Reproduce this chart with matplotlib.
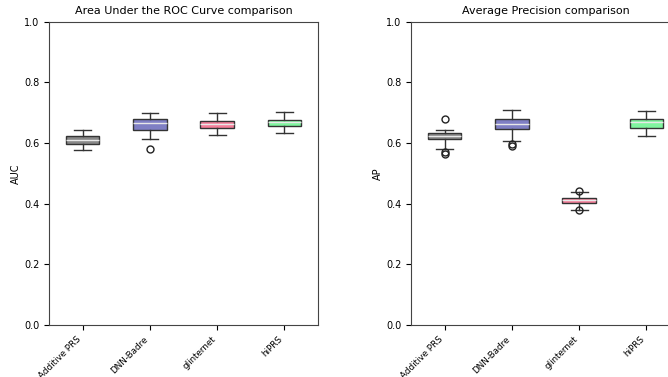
import matplotlib
matplotlib.use('Agg')
import matplotlib.pyplot as plt

models = ['Additive PRS', 'DNN-Badre', 'glinternet', 'hiPRS']
colors = ['#888888', '#7f7fc4', '#f47f9a', '#80f59f']

# AUC box stats: whislo, q1, med, q3, whishi, fliers
auc_whislo = [0.578, 0.614, 0.628, 0.634]
auc_q1 = [0.597, 0.643, 0.649, 0.657]
auc_med = [0.609, 0.665, 0.663, 0.668]
auc_q3 = [0.622, 0.681, 0.673, 0.677]
auc_whishi = [0.644, 0.698, 0.698, 0.703]
auc_fliers = [[], [0.581], [], []]

# AP box stats
ap_whislo = [0.581, 0.607, 0.380, 0.622]
ap_q1 = [0.612, 0.646, 0.401, 0.649]
ap_med = [0.624, 0.663, 0.411, 0.668]
ap_q3 = [0.635, 0.679, 0.418, 0.681]
ap_whishi = [0.644, 0.708, 0.438, 0.706]
ap_fliers = [[0.679, 0.572, 0.565], [0.596, 0.591], [0.443, 0.379], []]


def make_stats(lo, q1, med, q3, hi, fl):
    return [dict(whislo=lo[i], q1=q1[i], med=med[i], q3=q3[i], whishi=hi[i],
                 fliers=fl[i], label=models[i]) for i in range(len(models))]


plt.rcParams['font.size'] = 7
fig = plt.figure(figsize=(6.68, 3.77), dpi=100)
ax1 = fig.add_axes([0.0734, 0.138, 0.4027, 0.804])
ax2 = fig.add_axes([0.6153, 0.138, 0.4027, 0.804])

panels = [
    (ax1, make_stats(auc_whislo, auc_q1, auc_med, auc_q3, auc_whishi, auc_fliers),
     'Area Under the ROC Curve comparison', 'AUC'),
    (ax2, make_stats(ap_whislo, ap_q1, ap_med, ap_q3, ap_whishi, ap_fliers),
     'Average Precision comparison', 'AP'),
]

for ax, stats, title, ylab in panels:
    bp = ax.bxp(stats, patch_artist=True, widths=0.5,
                boxprops=dict(edgecolor='#333333', linewidth=1),
                medianprops=dict(color='#e8e8e8', linewidth=1),
                whiskerprops=dict(color='#333333', linewidth=1),
                capprops=dict(color='#333333', linewidth=1),
                flierprops=dict(marker='o', markerfacecolor='none',
                                markeredgecolor='#222222', markersize=5))
    for patch, c in zip(bp['boxes'], colors):
        patch.set_facecolor(c)
    ax.set_ylim(0, 1)
    ax.set_xlim(0.5, 4.5)
    ax.set_title(title, fontsize=8)
    ax.set_ylabel(ylab, labelpad=2)
    ax.set_xticklabels(models, rotation=45, ha='right', fontsize=6.3)
    for s in ax.spines.values():
        s.set_color('#444444')

fig.savefig('out.png', dpi=100)
